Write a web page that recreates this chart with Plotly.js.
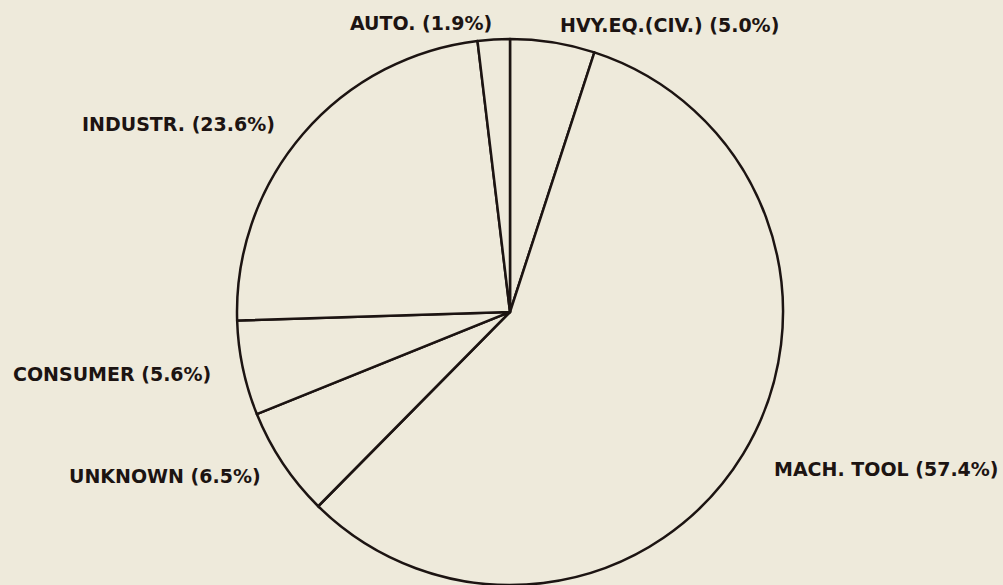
<!DOCTYPE html>
<html>
<head>
<meta charset="utf-8">
<script src="https://cdn.plot.ly/plotly-3.0.1.min.js"></script>
<style>
  html, body { margin: 0; padding: 0; background: #eeeadb; }
  #chart { width: 1003px; height: 585px; }
</style>
</head>
<body>
<div id="chart"></div>
<script>
// Data (clockwise from 12 o'clock)
const categories = ["HVY.EQ.(CIV.)", "MACH. TOOL", "UNKNOWN", "CONSUMER", "INDUSTR.", "AUTO."];
const shares = [5.0, 57.4, 6.5, 5.6, 23.6, 1.9];

const W = 1003, H = 585;
const bg = "#eeeadb";
const ink = "#1c1412";

// label placement (pixels in the picture) — layout only
const labelPos = [
  {x: 558, y: 25, anchor: "left"},    // HVY.EQ.
  {x: 772, y: 469, anchor: "left"},   // MACH. TOOL
  {x: 67,  y: 476, anchor: "left"},   // UNKNOWN
  {x: 11,  y: 374, anchor: "left"},   // CONSUMER
  {x: 277, y: 124, anchor: "right"},  // INDUSTR.
  {x: 348, y: 23,  anchor: "left"}    // AUTO.
];

const cx = 510, cy = 312, r = 273;

const trace = {
  type: "pie",
  labels: categories,
  values: shares,
  sort: false,
  direction: "clockwise",
  rotation: 0,
  textinfo: "none",
  hoverinfo: "none",
  showlegend: false,
  marker: {
    colors: categories.map(() => bg),
    line: {color: ink, width: 2.5}
  },
  domain: {
    x: [(cx - r) / W, (cx + r) / W],
    y: [(H - cy - r) / H, (H - cy + r) / H]
  }
};

const annotations = categories.map((c, i) => ({
  text: c + " (" + shares[i].toFixed(1) + "%)",
  xref: "paper", yref: "paper",
  x: labelPos[i].x / W,
  y: 1 - labelPos[i].y / H,
  xanchor: labelPos[i].anchor,
  yanchor: "middle",
  showarrow: false,
  font: {family: "DejaVu Sans", size: 19, color: ink, weight: "bold"}
}));

const layout = {
  width: W, height: H,
  margin: {l: 0, r: 0, t: 0, b: 0},
  paper_bgcolor: bg,
  plot_bgcolor: bg,
  annotations: annotations,
  showlegend: false
};

Plotly.newPlot("chart", [trace], layout, {displayModeBar: false, staticPlot: true});
</script>
</body>
</html>
